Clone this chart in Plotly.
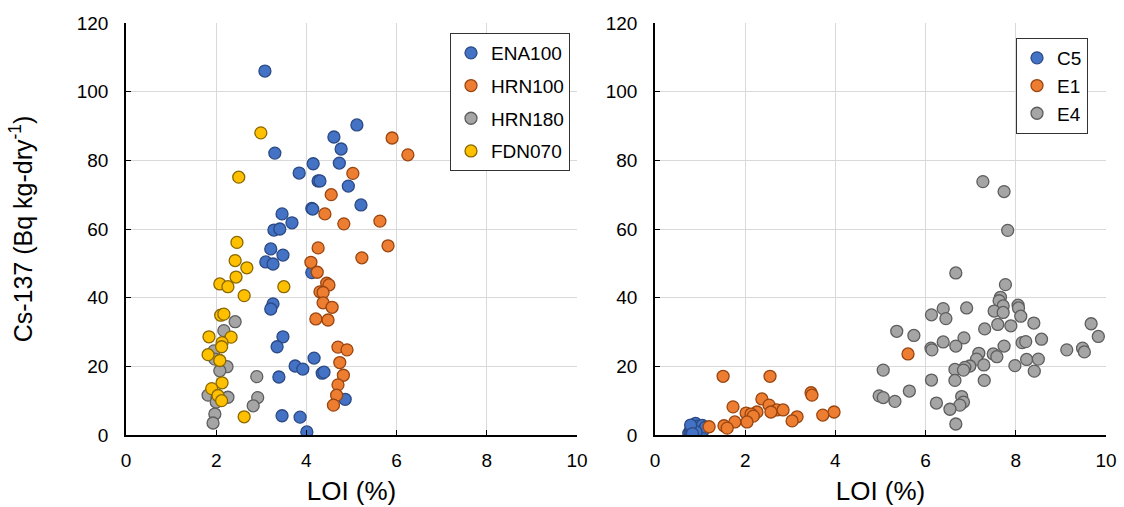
import plotly.graph_objects as go

# ---------------- Left panel data ----------------
ena100_x = [3.08, 3.30, 4.15, 3.84, 4.26, 4.12, 3.46, 3.68, 3.28, 3.41, 3.21, 3.48, 3.10, 3.26,
            4.12, 3.26, 3.21, 3.48, 3.35, 4.17, 3.75, 3.92, 4.35, 4.39, 3.39, 3.46, 3.86, 4.01,
            4.86, 5.12, 4.61, 4.77, 4.73, 4.30, 4.93, 5.21, 4.14]
ena100_y = [106.0, 82.1, 79.0, 76.3, 74.0, 66.0, 64.4, 61.8, 59.7, 60.0, 54.2, 52.4, 50.4, 49.8,
            47.3, 38.2, 36.7, 28.6, 25.7, 22.4, 20.1, 19.2, 18.0, 18.3, 16.9, 5.6, 5.2, 0.9,
            10.4, 90.3, 86.8, 83.3, 79.2, 74.0, 72.5, 67.0, 65.8]

hrn100_x = [5.90, 6.25, 5.03, 4.55, 4.41, 4.83, 5.63, 5.81, 4.26, 5.23, 4.10, 4.24, 4.45, 4.50,
            4.30, 4.37, 4.37, 4.57, 4.21, 4.48, 4.70, 4.90, 4.74, 4.82, 4.70, 4.67, 4.60]
hrn100_y = [86.5, 81.6, 76.2, 70.0, 64.4, 61.5, 62.3, 55.1, 54.5, 51.6, 50.3, 47.4, 44.2, 43.7,
            41.7, 41.5, 38.5, 37.2, 33.8, 33.5, 25.6, 24.8, 21.1, 17.4, 14.6, 11.6, 8.7]

hrn180_x = [2.42, 2.17, 1.95, 1.97, 2.24, 2.08, 2.90, 1.82, 2.02, 2.26, 2.00, 2.92, 2.82, 1.97, 1.93]
hrn180_y = [33.0, 30.4, 24.5, 22.1, 19.9, 18.7, 17.0, 11.6, 11.1, 11.0, 9.6, 10.9, 8.5, 6.1, 3.5]

fdn070_x = [2.99, 2.50, 2.46, 2.42, 2.68, 2.44, 2.08, 2.26, 3.50, 2.62, 2.10, 2.17, 1.84, 2.33,
            2.13, 2.12, 1.82, 2.08, 2.13, 1.90, 2.04, 2.12, 2.62]
fdn070_y = [88.0, 75.1, 56.1, 50.8, 48.7, 46.0, 44.0, 43.2, 43.2, 40.6, 34.9, 35.2, 28.6, 28.5,
            26.9, 25.7, 23.4, 21.7, 15.2, 13.5, 11.5, 10.0, 5.3]

# ---------------- Right panel data ----------------
c5_x = [0.75, 0.78, 0.80, 0.82, 0.84, 0.85, 0.87, 0.88, 0.90, 0.92, 0.93, 0.95, 0.97, 1.00,
        1.02, 1.05, 1.08, 1.12, 0.86, 0.91, 0.79, 0.83]
c5_y = [0.5, 1.0, 1.8, 0.8, 2.4, 1.3, 3.0, 0.6, 3.4, 2.0, 1.2, 2.6, 1.6, 2.2,
        1.0, 2.8, 1.5, 2.3, 0.3, 0.9, 2.9, 0.4]

e1_x = [1.51, 2.55, 3.46, 3.48, 2.37, 1.73, 2.53, 2.70, 2.84, 2.57, 2.26, 2.02, 2.13, 2.18,
        3.97, 3.72, 3.15, 3.04, 2.04, 1.77, 1.53, 1.60, 1.20, 5.61]
e1_y = [17.1, 17.1, 12.3, 11.6, 10.5, 8.2, 8.7, 7.3, 7.3, 6.7, 6.7, 6.4, 6.1, 5.5,
        6.7, 5.8, 5.3, 4.1, 3.8, 3.8, 2.7, 2.0, 2.4, 23.6]

e4_x = [7.27, 7.74, 7.82, 6.67, 7.77, 7.66, 7.63, 7.72, 8.05, 8.06, 7.52, 7.72, 6.39, 6.91,
        6.13, 6.45, 8.11, 8.40, 7.60, 7.89, 7.31, 5.36, 5.74, 9.67, 9.83, 8.57, 6.85, 6.39,
        6.67, 7.74, 8.14, 8.22, 6.12, 6.14, 9.13, 9.48, 9.52, 7.18, 7.50, 7.58, 7.13, 7.29,
        8.24, 8.50, 7.98, 6.98, 6.87, 6.65, 6.84, 8.41, 5.06, 6.13, 6.65, 7.30, 5.64, 4.97,
        5.06, 5.32, 6.24, 6.80, 6.84, 6.76, 6.54, 6.67]
e4_y = [73.8, 70.9, 59.6, 47.2, 43.8, 40.1, 39.1, 37.6, 37.8, 37.0, 36.1, 35.7, 36.8, 37.0,
        35.0, 33.9, 34.6, 32.6, 32.2, 31.8, 30.9, 30.2, 29.0, 32.4, 28.7, 27.9, 28.3, 27.1,
        25.9, 25.9, 26.9, 27.2, 25.3, 24.8, 24.8, 25.3, 24.2, 23.8, 23.6, 22.8, 22.1, 20.4,
        22.0, 22.1, 20.2, 20.1, 19.7, 19.1, 18.9, 18.6, 18.9, 16.0, 15.9, 15.9, 12.8, 11.4,
        10.9, 9.8, 9.3, 11.2, 9.6, 8.7, 7.5, 3.2]

x_ticks = [0, 2, 4, 6, 8, 10]
y_ticks = [0, 20, 40, 60, 80, 100, 120]

BLUE = ("#4472C4", "#2B4A86")
ORANGE = ("#ED7D31", "#9A4510")
GRAY = ("#A5A5A5", "#5E5E5E")
YELLOW = ("#FFC000", "#8A6800")

FONT = "Liberation Sans, Arial, Helvetica, sans-serif"

fig = go.Figure()


def add(xs, ys, name, col, xa, ya, leg, grp=None):
    fig.add_trace(go.Scatter(
        x=xs, y=ys, mode="markers", name=name, xaxis=xa, yaxis=ya,
        legend=leg, legendgroup=grp,
        marker=dict(size=12, color=col[0], line=dict(color=col[1], width=1.3)),
    ))


add(ena100_x, ena100_y, "ENA100", BLUE, "x", "y", "legend", "g1")
add(hrn100_x, hrn100_y, "HRN100", ORANGE, "x", "y", "legend", "g2")
add(hrn180_x, hrn180_y, "HRN180", GRAY, "x", "y", "legend", "g3")
add(fdn070_x, fdn070_y, "FDN070", YELLOW, "x", "y", "legend", "g4")
add(c5_x, c5_y, "C5", BLUE, "x2", "y2", "legend2")
add(e1_x, e1_y, "E1", ORANGE, "x2", "y2", "legend2")
add(e4_x, e4_y, "E4", GRAY, "x2", "y2", "legend2")

W, H = 1124, 507
yd = [1 - 435 / H, 1 - 23 / H]

axis_common = dict(
    showgrid=True, gridcolor="#D9D9D9", gridwidth=1,
    showline=True, linecolor="#000000", linewidth=1.5,
    ticks="inside", ticklen=5, tickcolor="#000000", tickwidth=1.2,
    zeroline=False, tickfont=dict(family=FONT, size=19, color="#000000"),
    automargin=False,
)

fig.update_layout(
    width=W, height=H,
    margin=dict(l=0, r=0, t=0, b=0),
    paper_bgcolor="white", plot_bgcolor="white",
    font=dict(family=FONT, color="#000000"),
    xaxis=dict(domain=[126 / W, 577 / W], range=[0, 10], tickvals=x_ticks, anchor="y",
               ticklabelstandoff=7,
               title=dict(text="LOI (%)", font=dict(size=26), standoff=12), **axis_common),
    yaxis=dict(domain=yd, range=[0, 120], tickvals=y_ticks, anchor="x",
               ticklabelstandoff=12,
               title=dict(text="Cs-137 (Bq kg-dry<sup>-1</sup>)", font=dict(size=25), standoff=37),
               **axis_common),
    xaxis2=dict(domain=[655 / W, 1106 / W], range=[0, 10], tickvals=x_ticks, anchor="y2",
                ticklabelstandoff=7,
                title=dict(text="LOI (%)", font=dict(size=26), standoff=12), **axis_common),
    yaxis2=dict(domain=yd, range=[0, 120], tickvals=y_ticks, anchor="x2",
                ticklabelstandoff=12, **axis_common),
    legend=dict(x=570 / W, y=1 - 33 / H, xanchor="right", yanchor="top",
                bordercolor="#333333", borderwidth=1, bgcolor="white",
                font=dict(family=FONT, size=19), traceorder="grouped", tracegroupgap=5,
                itemwidth=30),
    legend2=dict(x=1088 / W, y=1 - 38 / H, xanchor="right", yanchor="top",
                 bordercolor="#333333", borderwidth=1, bgcolor="white",
                 font=dict(family=FONT, size=19), traceorder="normal",
                 itemwidth=30),
    showlegend=True,
)

fig.write_html("out.html")
